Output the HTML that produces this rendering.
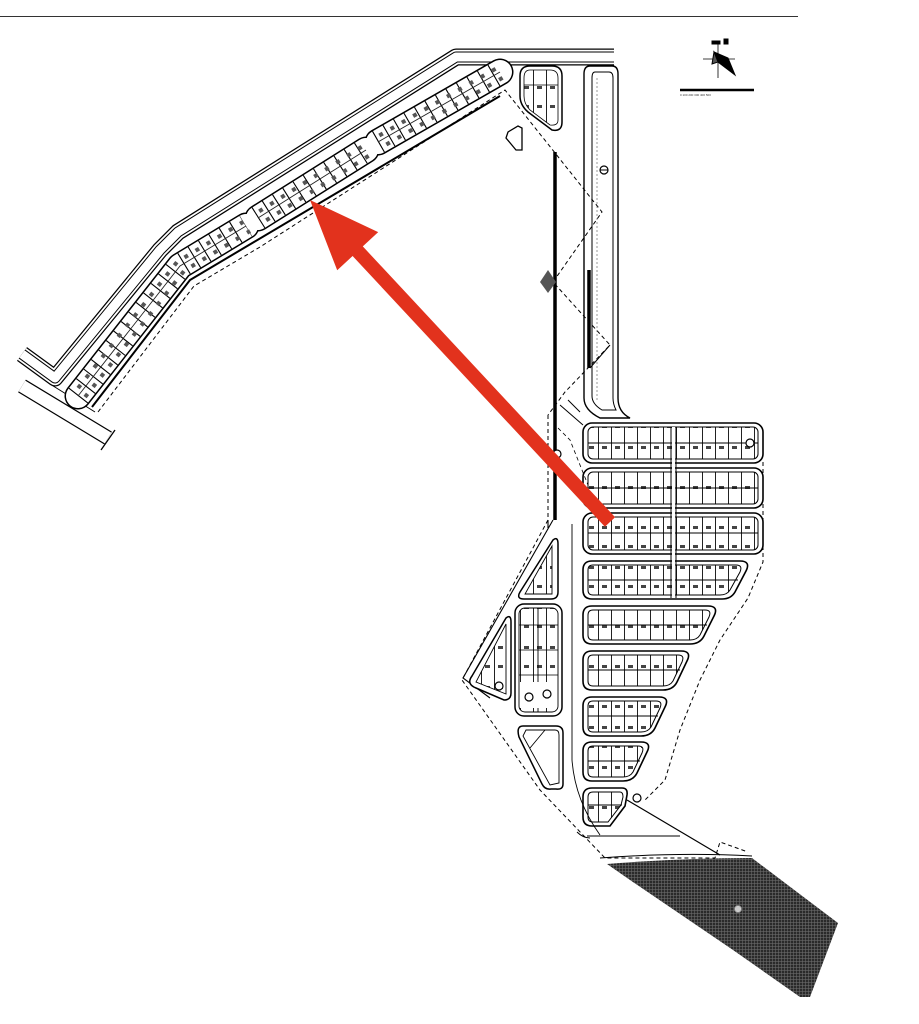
<!DOCTYPE html>
<html><head><meta charset="utf-8"><style>
html,body{margin:0;padding:0;background:#fff;}
svg{display:block;}
</style></head><body>
<svg width="919" height="1024" viewBox="0 0 919 1024" xmlns="http://www.w3.org/2000/svg" font-family="Liberation Sans, sans-serif">
<defs>
<pattern id="lots" width="13" height="40" patternUnits="userSpaceOnUse">
<rect width="13" height="40" fill="#fff"/>
<line x1="0.5" y1="0" x2="0.5" y2="40" stroke="#222" stroke-width="1"/>
<rect x="4" y="6" width="5" height="3" fill="#444"/>
<rect x="4" y="25" width="5" height="3" fill="#444"/>
</pattern>
<pattern id="hatch" width="3" height="3" patternUnits="userSpaceOnUse">
<rect width="3" height="3" fill="#2a2a2a"/>
<line x1="0" y1="1.5" x2="3" y2="1.5" stroke="#6a6a6a" stroke-width="0.6"/>
<line x1="1.5" y1="0" x2="1.5" y2="3" stroke="#6a6a6a" stroke-width="0.6"/>
</pattern>
</defs>

<line x1="0" y1="16.5" x2="798" y2="16.5" stroke="#333" stroke-width="1"/>

<g stroke="#000" fill="none">
<line x1="703" y1="59" x2="735" y2="59" stroke-width="0.8"/>
<line x1="718" y1="44" x2="718" y2="78" stroke-width="0.8"/>
<polygon points="714,52 728,58 735,75 718,62" fill="#000"/>
<polygon points="714,52 718,62 712,64" fill="#555"/>
<rect x="712" y="41" width="8" height="3" fill="#000"/>
<rect x="724" y="39" width="4" height="5" fill="#000"/>
<line x1="680" y1="90" x2="754" y2="90" stroke-width="2.5"/>
</g>
<text x="680" y="96" font-size="3" fill="#333">0 100 200 300 400 500</text>

<path d="M614,57 L456,57 L178,232 L160,250 L55,378 L22,354" fill="none" stroke="#000" stroke-width="17" stroke-linejoin="round"/>
<path d="M614,57 L456,57 L178,232 L160,250 L55,378 L22,354" fill="none" stroke="#fff" stroke-width="14.5" stroke-linejoin="round"/>
<path d="M614,57 L456,57 L178,232 L160,250 L55,378 L22,354" fill="none" stroke="#000" stroke-width="11" stroke-linejoin="round"/>
<path d="M614,57 L456,57 L178,232 L160,250 L55,378 L22,354" fill="none" stroke="#fff" stroke-width="9" stroke-linejoin="round"/>
<path d="M22,386 L108,438" fill="none" stroke="#000" stroke-width="15"/>
<path d="M22,386 L108,438" fill="none" stroke="#fff" stroke-width="12.5"/>
<line x1="115" y1="430" x2="101" y2="450" stroke="#000" stroke-width="1.3"/>
<path d="M50,384 L95,412" fill="none" stroke="#000" stroke-width="1"/>

<path d="M78,396 L180,266 L246,226 M258,218 L366,150 M378,142 L500,72" fill="none" stroke="#000" stroke-width="27" stroke-linecap="round" stroke-linejoin="round"/>
<path d="M78,396 L180,266 L246,226 M258,218 L366,150 M378,142 L500,72" fill="none" stroke="#fff" stroke-width="24" stroke-linecap="round" stroke-linejoin="round"/>
<path d="M78,396 L180,266 L246,226 M258,218 L366,150 M378,142 L500,72" fill="none" stroke="#000" stroke-width="24" stroke-dasharray="1.1 11" stroke-linejoin="round"/>
<path d="M78,396 L180,266 L246,226 M258,218 L366,150 M378,142 L500,72" fill="none" stroke="#222" stroke-width="0.9"/>
<path d="M78,396 L180,266 L246,226 M258,218 L366,150 M378,142 L500,72" fill="none" stroke="#555" stroke-width="4" stroke-dasharray="4 9" stroke-dashoffset="-5" transform="translate(-3,-4)"/>
<path d="M78,396 L180,266 L246,226 M258,218 L366,150 M378,142 L500,72" fill="none" stroke="#555" stroke-width="4" stroke-dasharray="4 9" stroke-dashoffset="-5" transform="translate(4,5)"/>
<path d="M92,407 L190,280 L254,242 L500,96" fill="none" stroke="#000" stroke-width="2"/>

<path d="M98,412 L194,286 L260,247 L505,90 L602,212 L553,282 L610,345 L565,392 L548,415 M548,415 L548,520 L462,680 L540,790 L605,858 L715,858 L720,842 L748,852" fill="none" stroke="#000" stroke-width="1" stroke-dasharray="4 3"/>
<path d="M763,462 L763,562 L748,598 L720,640 L700,680 L680,730 L665,780 L645,800" fill="none" stroke="#000" stroke-width="1" stroke-dasharray="4 3"/>
<path d="M612,545 L570,440 L555,425" fill="none" stroke="#000" stroke-width="0.8" stroke-dasharray="4 3"/>

<path d="M530,66 H552 Q562,66 562,76 V122 Q562,132 552,130 L528,112 Q520,105 520,96 V76 Q520,66 530,66Z" fill="#fff" stroke="#000" stroke-width="1.5"/>
<path d="M530,70 H550 Q558,70 558,78 V120 Q558,126 550,125 L530,110 Q524,104 524,96 V78 Q524,70 530,70Z" fill="url(#lots)" stroke="#000" stroke-width="0.8"/>
<line x1="524" y1="85" x2="558" y2="85" stroke="#000" stroke-width="0.8"/>
<polygon points="508,132 518,126 522,128 522,150 516,150 506,138" fill="#fff" stroke="#000" stroke-width="1.3"/>

<path d="M590,66 H612 Q618,66 618,74 V398 Q618,412 630,418 L600,418 Q584,410 584,398 V74 Q584,66 590,66Z" fill="none" stroke="#000" stroke-width="1.4"/>
<path d="M595,72 H609 Q613,72 613,78 V398 Q613,404 616,410 L602,410 Q592,404 592,396 V78 Q592,72 595,72Z" fill="none" stroke="#000" stroke-width="1"/>
<line x1="597" y1="78" x2="597" y2="400" stroke="#555" stroke-width="0.6" stroke-dasharray="2 2"/>
<circle cx="604" cy="170" r="4" fill="#fff" stroke="#000" stroke-width="1.2"/>
<line x1="600" y1="170" x2="608" y2="170" stroke="#000" stroke-width="1"/>
<line x1="555" y1="152" x2="555" y2="520" stroke="#000" stroke-width="3.5"/>
<line x1="589" y1="270" x2="589" y2="368" stroke="#000" stroke-width="3.5"/>
<polygon points="548,270 556,282 548,293 540,282" fill="#555"/>
<circle cx="557" cy="454" r="4" fill="#fff" stroke="#000" stroke-width="1.2"/>
<line x1="568" y1="400" x2="580" y2="412" stroke="#000" stroke-width="1"/>
<line x1="560" y1="405" x2="583" y2="425" stroke="#000" stroke-width="1"/>
<line x1="610" y1="345" x2="590" y2="368" stroke="#000" stroke-width="1"/>

<g stroke="#000" fill="none">
<rect x="583" y="423" width="180" height="40" rx="9" stroke-width="1.6"/>
<rect x="588" y="427" width="170" height="32" rx="5" fill="url(#lots)" stroke-width="1"/>
<line x1="588" y1="443" x2="758" y2="443" stroke-width="0.9"/>
<rect x="583" y="468" width="180" height="40" rx="9" stroke-width="1.6"/>
<rect x="588" y="472" width="170" height="32" rx="5" fill="url(#lots)" stroke-width="1"/>
<line x1="588" y1="488" x2="758" y2="488" stroke-width="0.9"/>
<rect x="583" y="513" width="180" height="41" rx="9" stroke-width="1.6"/>
<rect x="588" y="517" width="170" height="33" rx="5" fill="url(#lots)" stroke-width="1"/>
<line x1="588" y1="533" x2="758" y2="533" stroke-width="0.9"/>

<path d="M592,561 H740 Q751,561 746,571 L735,592 Q731,599 722,599 H592 Q583,599 583,590 V570 Q583,561 592,561Z" stroke-width="1.6"/>
<path d="M593,565 H736 Q743,565 740,572 L730,590 Q727,595 720,595 H593 Q588,595 588,590 V570 Q588,565 593,565Z" fill="url(#lots)" stroke-width="1"/>
<line x1="588" y1="580" x2="738" y2="580" stroke-width="0.9"/>

<path d="M592,606 H708 Q719,606 714,616 L704,636 Q700,644 690,644 H592 Q583,644 583,635 V615 Q583,606 592,606Z" stroke-width="1.6"/>
<path d="M593,610 H705 Q712,610 709,617 L700,635 Q697,640 690,640 H593 Q588,640 588,635 V615 Q588,610 593,610Z" fill="url(#lots)" stroke-width="1"/>
<line x1="588" y1="625" x2="707" y2="625" stroke-width="0.9"/>

<path d="M592,651 H681 Q692,651 687,661 L677,682 Q673,690 663,690 H592 Q583,690 583,681 V660 Q583,651 592,651Z" stroke-width="1.6"/>
<path d="M593,655 H678 Q685,655 682,662 L673,681 Q670,686 663,686 H593 Q588,686 588,681 V660 Q588,655 593,655Z" fill="url(#lots)" stroke-width="1"/>
<line x1="588" y1="670" x2="680" y2="670" stroke-width="0.9"/>

<path d="M592,697 H659 Q670,697 665,707 L655,728 Q651,736 641,736 H592 Q583,736 583,727 V706 Q583,697 592,697Z" stroke-width="1.6"/>
<path d="M593,701 H656 Q663,701 660,708 L651,727 Q648,732 641,732 H593 Q588,732 588,727 V706 Q588,701 593,701Z" fill="url(#lots)" stroke-width="1"/>
<line x1="588" y1="716" x2="658" y2="716" stroke-width="0.9"/>

<path d="M592,742 H641 Q652,742 647,752 L637,773 Q633,781 623,781 H592 Q583,781 583,772 V751 Q583,742 592,742Z" stroke-width="1.6"/>
<path d="M593,746 H638 Q645,746 642,753 L633,772 Q630,777 623,777 H593 Q588,777 588,772 V751 Q588,746 593,746Z" fill="url(#lots)" stroke-width="1"/>
<line x1="588" y1="761" x2="640" y2="761" stroke-width="0.9"/>

<path d="M592,788 H622 Q628,788 627,795 L625,806 L610,826 H592 Q583,826 583,817 V797 Q583,788 592,788Z" stroke-width="1.6"/>
<path d="M593,792 H620 Q623,792 623,797 L621,805 L608,822 H593 Q588,822 588,817 V797 Q588,792 593,792Z" fill="url(#lots)" stroke-width="1"/>
<line x1="588" y1="805" x2="622" y2="805" stroke-width="0.9"/>
<line x1="671" y1="427" x2="671" y2="598" stroke-width="1"/>
<line x1="676" y1="427" x2="676" y2="598" stroke-width="1"/>
</g>
<rect x="672" y="427" width="3" height="170" fill="#fff"/>
<circle cx="750" cy="443" r="4" fill="#fff" stroke="#000" stroke-width="1.2"/>
<circle cx="637" cy="798" r="4" fill="#fff" stroke="#000" stroke-width="1.2"/>
<path d="M627,800 L720,855" stroke="#000" stroke-width="1.2"/>
<path d="M587,836 L680,836" stroke="#000" stroke-width="1"/>
<path d="M577,832 Q583,838 590,838" fill="none" stroke="#000" stroke-width="1"/>
<path d="M548,528 L548,520 M553,520 L463,678 L490,698" fill="none" stroke="#000" stroke-width="1.1"/>
<path d="M572,524 L572,760 Q575,800 600,835" fill="none" stroke="#000" stroke-width="0.9"/>

<g stroke="#000">
<path d="M553,540 Q558,536 558,544 V592 Q558,599 551,599 H524 Q516,599 520,592Z" fill="#fff" stroke-width="1.5"/>
<path d="M552,546 L552,594 L525,594Z" fill="url(#lots)" stroke-width="0.9"/>
<rect x="515" y="604" width="47" height="112" rx="9" fill="#fff" stroke-width="1.5"/>
<rect x="519" y="608" width="39" height="104" rx="6" fill="url(#lots)" stroke-width="0.9"/>
<line x1="538" y1="608" x2="538" y2="712" stroke-width="0.9"/>
<line x1="519" y1="625" x2="558" y2="625" stroke-width="0.7"/>
<line x1="519" y1="650" x2="558" y2="650" stroke-width="0.7"/>
<line x1="519" y1="675" x2="558" y2="675" stroke-width="0.7"/>
<rect x="520" y="682" width="37" height="26" fill="#fff" stroke="none"/>
<circle cx="529" cy="697" r="4" fill="#fff" stroke-width="1.2"/>
<circle cx="547" cy="694" r="4" fill="#fff" stroke-width="1.2"/>
<path d="M506,618 Q511,614 511,622 V693 Q511,700 504,700 L476,688 Q466,684 472,676Z" fill="#fff" stroke-width="1.5"/>
<path d="M506,624 L506,694 L476,682Z" fill="url(#lots)" stroke-width="0.9"/>
<circle cx="499" cy="686" r="4" fill="#fff" stroke-width="1.2"/>
<path d="M523,726 H556 Q563,726 563,733 V784 Q563,790 556,789 L551,789 Q545,790 542,784 L519,737 Q516,726 523,726Z" fill="#fff" stroke-width="1.5"/>
<path d="M526,730 H555 Q559,730 559,735 V783 L550,785 L523,736Z" fill="none" stroke-width="0.9"/>
<line x1="545" y1="730" x2="530" y2="748" stroke-width="0.9"/>
</g>

<path d="M607,864 Q680,858 752,858 L838,923 L810,997 L800,997 L733,950 L630,880Z" fill="url(#hatch)"/>
<path d="M600,858 Q680,852 752,856" fill="none" stroke="#000" stroke-width="1"/>
<circle cx="738" cy="909" r="3.5" fill="#ccc" stroke="#888" stroke-width="0.8"/>

<polygon points="615.1,517.2 604.9,526.8 352.6,256 337.2,270.3 310,200 378.2,232.1 362.8,246.4" fill="#e2321d"/>
</svg>
</body></html>
